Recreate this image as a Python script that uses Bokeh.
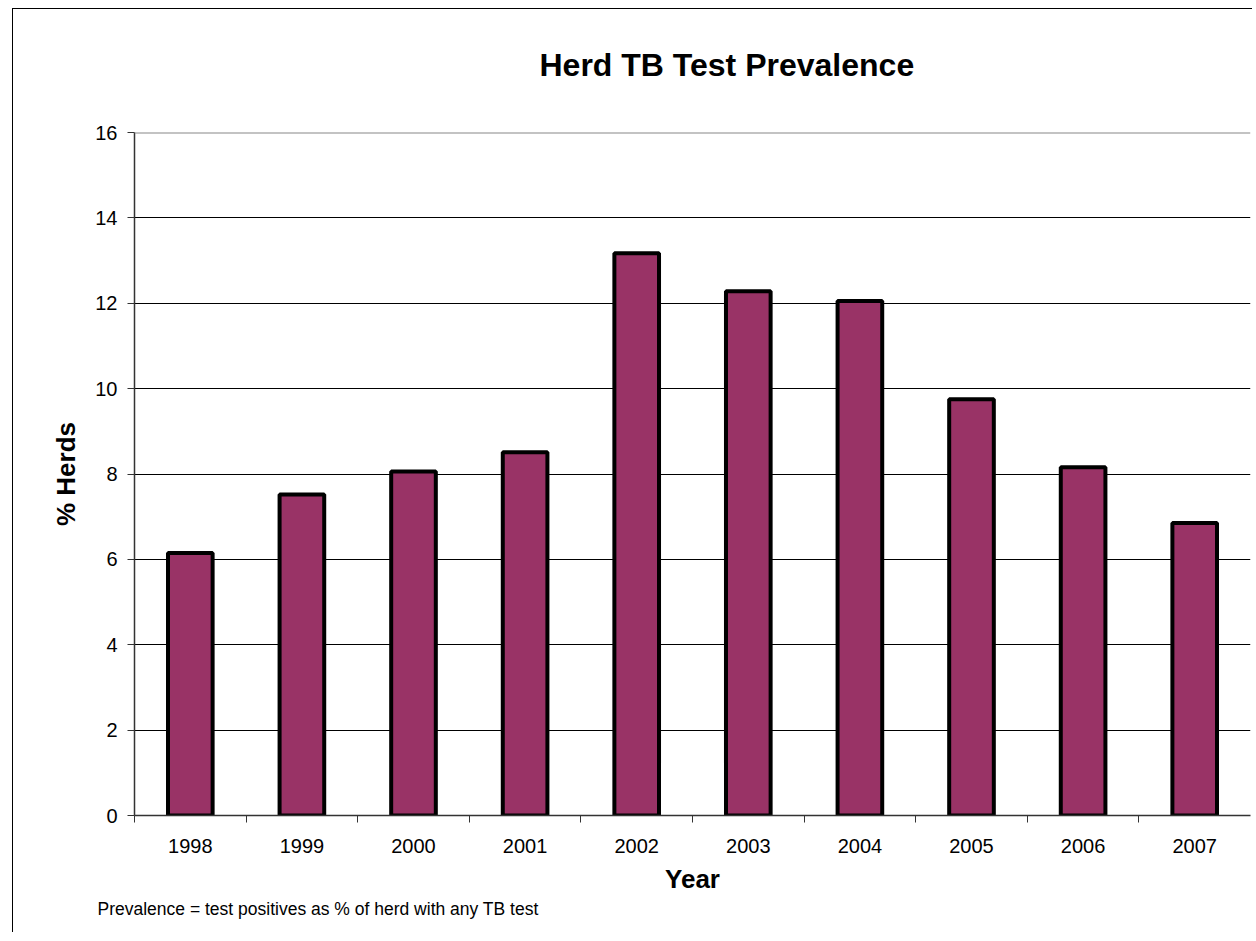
from bokeh.plotting import figure
from bokeh.models import Range1d, FixedTicker, Span, Title
from bokeh.embed import file_html
from bokeh.resources import INLINE
import numpy as np

title_text = "Herd TB Test Prevalence"
note_text = "Prevalence = test positives as % of herd with any TB test"
years = ["1998", "1999", "2000", "2001", "2002", "2003", "2004", "2005", "2006", "2007"]
prevalence = [6.15, 7.52, 8.06, 8.51, 13.17, 12.28, 12.05, 9.75, 8.16, 6.85]
y_ticks = [0, 2, 4, 6, 8, 10, 12, 14, 16]

FONT = "Liberation Sans"

p = figure(width=1240, height=924, output_backend="svg", toolbar_location=None, title=None,
           x_range=Range1d(0, len(years)), y_range=Range1d(0, 16),
           min_border_left=121, min_border_top=123, min_border_right=3, min_border_bottom=118)
p.styles = {"border-left": "1px solid #000", "border-top": "1px solid #000",
            "margin-left": "12px", "margin-top": "8px"}
p.outline_line_color = None
p.background_fill_color = "white"
p.border_fill_color = "white"

centers = np.arange(len(years)) + 0.5
p.vbar(x=centers, top=prevalence, width=0.4, bottom=0,
       fill_color="#993366", line_color="black", line_width=4)

# grid
p.xgrid.visible = False
p.ygrid.ticker = FixedTicker(ticks=y_ticks[1:-1])
p.ygrid.grid_line_color = "black"
p.ygrid.grid_line_width = 1
p.add_layout(Span(location=y_ticks[-1], dimension="width", line_color="#888888", line_width=2))

# y axis
ya = p.yaxis[0]
ya.ticker = FixedTicker(ticks=y_ticks)
ya.axis_line_color = "#333333"
ya.axis_line_width = 1.5
ya.major_tick_out = 7
ya.major_tick_in = 0
ya.major_tick_line_color = "#333333"
ya.minor_tick_line_color = None
ya.major_label_text_font = FONT
ya.major_label_text_font_size = "20px"
ya.major_label_text_color = "black"
ya.major_label_standoff = 10
ya.axis_label = "% Herds"
ya.axis_label_text_font = FONT
ya.axis_label_text_font_style = "bold"
ya.axis_label_text_font_size = "26px"
ya.axis_label_text_color = "black"
ya.axis_label_standoff = 11

# x axis
xa = p.xaxis[0]
xa.ticker = FixedTicker(ticks=list(centers), minor_ticks=list(range(len(years))))
xa.major_label_overrides = {float(c): y for c, y in zip(centers, years)}
xa.axis_line_color = "#333333"
xa.axis_line_width = 1.5
xa.major_tick_line_color = None
xa.major_tick_out = 0
xa.major_tick_in = 0
xa.minor_tick_out = 7
xa.minor_tick_in = 0
xa.minor_tick_line_color = "#333333"
xa.major_label_text_font = FONT
xa.major_label_text_font_size = "20px"
xa.major_label_text_color = "black"
xa.major_label_standoff = 16
xa.axis_label = "Year"
xa.axis_label_text_font = FONT
xa.axis_label_text_font_style = "bold"
xa.axis_label_text_font_size = "26px"
xa.axis_label_text_color = "black"
xa.axis_label_standoff = 8

# spacer (nearest the frame) then the real title above it
spacer = Title(text=" ", text_font=FONT, text_font_size="1px", standoff=47)
title = Title(text=title_text, text_font=FONT, text_font_size="32px",
              text_font_style="bold", text_color="black",
              align="left", offset=405, standoff=0)
p.add_layout(spacer, "above")
p.add_layout(title, "above")

note = Title(text=note_text,
             text_font=FONT, text_font_size="17.5px", text_font_style="normal",
             text_color="black", align="left", offset=-37, standoff=0)
p.add_layout(note, "below")

open("out.html", "w").write(file_html(p, INLINE))
